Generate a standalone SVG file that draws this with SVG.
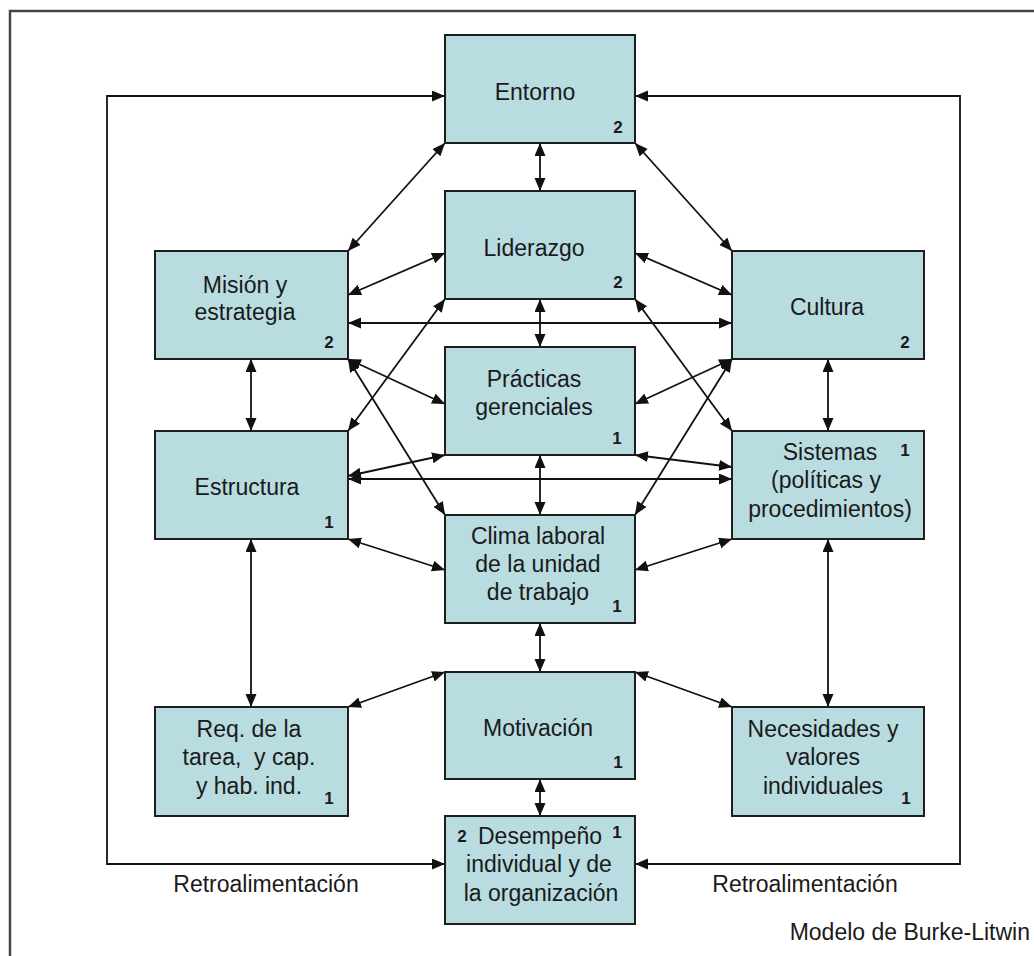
<svg xmlns="http://www.w3.org/2000/svg" width="1034" height="956" viewBox="0 0 1034 956">
<style>
.box{fill:#B8DCE0;stroke:#1e1e1e;stroke-width:2}
.t{font-family:"Liberation Sans",Arial,sans-serif;font-size:23px;fill:#1a1a1a;text-anchor:middle}
.n{font-family:"Liberation Sans",Arial,sans-serif;font-size:17px;font-weight:bold;fill:#1a1a1a;text-anchor:middle}
.c{fill:none;stroke:#111;stroke-width:1.8;marker-start:url(#ah);marker-end:url(#ah)}
.frame{fill:none;stroke:#444;stroke-width:2.5}
</style>
<defs>
<marker id="ah" markerUnits="userSpaceOnUse" markerWidth="14" markerHeight="12" refX="13" refY="5.5" orient="auto-start-reverse">
<path d="M0,0 L13,5.5 L0,11 z" fill="#111"/>
</marker>
</defs>
<rect width="1034" height="956" fill="#fff"/>
<path class="frame" d="M10,956 L10,11 L1034,11"/>

<g id="connectors">
<line class="c" x1="540" y1="143" x2="540" y2="191"/>
<line class="c" x1="540" y1="299" x2="540" y2="347"/>
<line class="c" x1="540" y1="455" x2="540" y2="515"/>
<line class="c" x1="540" y1="623" x2="540" y2="672"/>
<line class="c" x1="540" y1="779" x2="540" y2="816"/>
<line class="c" x1="251" y1="359" x2="251" y2="431"/>
<line class="c" x1="828" y1="359" x2="828" y2="431"/>
<line class="c" x1="251" y1="539" x2="251" y2="707"/>
<line class="c" x1="828" y1="539" x2="828" y2="707"/>
<line class="c" x1="445" y1="143" x2="348" y2="251"/>
<line class="c" x1="635" y1="143" x2="732" y2="251"/>
<line class="c" x1="445" y1="253" x2="348" y2="295"/>
<line class="c" x1="635" y1="253" x2="732" y2="295"/>
<line class="c" x1="445" y1="299" x2="348" y2="431"/>
<line class="c" x1="635" y1="299" x2="732" y2="431"/>
<line class="c" x1="348" y1="359" x2="445" y2="404"/>
<line class="c" x1="732" y1="359" x2="635" y2="404"/>
<line class="c" x1="348" y1="359" x2="445" y2="515"/>
<line class="c" x1="732" y1="359" x2="635" y2="515"/>
<line class="c" x1="348" y1="323" x2="732" y2="323"/>
<line class="c" x1="348" y1="479" x2="732" y2="479"/>
<line class="c" x1="445" y1="455" x2="348" y2="476"/>
<line class="c" x1="635" y1="455" x2="732" y2="467"/>
<line class="c" x1="348" y1="539" x2="445" y2="570"/>
<line class="c" x1="732" y1="539" x2="635" y2="570"/>
<line class="c" x1="445" y1="672" x2="348" y2="707"/>
<line class="c" x1="635" y1="672" x2="732" y2="707"/>
<polyline class="c" points="445,864 107,864 107,96 445,96"/>
<polyline class="c" points="635,864 960,864 960,96 635,96"/>
</g>

<g id="entorno">
<rect class="box" x="445" y="35" width="190" height="108"/>
<text class="t" x="535" y="100">Entorno</text>
<text class="n" x="618" y="133">2</text>
</g>
<g id="liderazgo">
<rect class="box" x="445" y="191" width="190" height="108"/>
<text class="t" x="534" y="256">Liderazgo</text>
<text class="n" x="618" y="288">2</text>
</g>
<g id="practicas">
<rect class="box" x="445" y="347" width="190" height="108"/>
<text class="t" x="534" y="387">Prácticas</text>
<text class="t" x="534" y="415">gerenciales</text>
<text class="n" x="617" y="444">1</text>
</g>
<g id="clima">
<rect class="box" x="445" y="515" width="190" height="108"/>
<text class="t" x="538" y="544">Clima laboral</text>
<text class="t" x="538" y="572">de la unidad</text>
<text class="t" x="538" y="600">de trabajo</text>
<text class="n" x="617" y="612">1</text>
</g>
<g id="motivacion">
<rect class="box" x="445" y="672" width="190" height="107"/>
<text class="t" x="538" y="736">Motivación</text>
<text class="n" x="618" y="768">1</text>
</g>
<g id="desempeno">
<rect class="box" x="445" y="816" width="190" height="108"/>
<text class="t" x="540" y="844">Desempeño</text>
<text class="t" x="539" y="872">individual y de</text>
<text class="t" x="541" y="901">la organización</text>
<text class="n" x="462" y="842">2</text>
<text class="n" x="617" y="838">1</text>
</g>
<g id="mision">
<rect class="box" x="155" y="251" width="193" height="108"/>
<text class="t" x="245" y="293">Misión y</text>
<text class="t" x="245" y="320">estrategia</text>
<text class="n" x="329" y="348">2</text>
</g>
<g id="estructura">
<rect class="box" x="155" y="431" width="193" height="108"/>
<text class="t" x="247" y="495">Estructura</text>
<text class="n" x="329" y="528">1</text>
</g>
<g id="req">
<rect class="box" x="155" y="707" width="193" height="109"/>
<text class="t" x="249" y="737">Req. de la</text>
<text class="t" x="249" y="765" xml:space="preserve">tarea,  y cap.</text>
<text class="t" x="249" y="794">y hab. ind.</text>
<text class="n" x="329" y="804">1</text>
</g>
<g id="cultura">
<rect class="box" x="732" y="251" width="192" height="108"/>
<text class="t" x="827" y="315">Cultura</text>
<text class="n" x="905" y="348">2</text>
</g>
<g id="sistemas">
<rect class="box" x="732" y="431" width="192" height="108"/>
<text class="t" x="830" y="460">Sistemas</text>
<text class="t" x="826" y="488">(políticas y</text>
<text class="t" x="830" y="517">procedimientos)</text>
<text class="n" x="905" y="456">1</text>
</g>
<g id="necesidades">
<rect class="box" x="732" y="707" width="192" height="109"/>
<text class="t" x="823" y="737">Necesidades y</text>
<text class="t" x="823" y="765">valores</text>
<text class="t" x="823" y="794">individuales</text>
<text class="n" x="906" y="804">1</text>
</g>

<g id="labels">
<text class="t" x="266" y="892">Retroalimentación</text>
<text class="t" x="805" y="892">Retroalimentación</text>
<text class="t" x="1030" y="940" style="text-anchor:end">Modelo de Burke-Litwin</text>
</g>
</svg>
